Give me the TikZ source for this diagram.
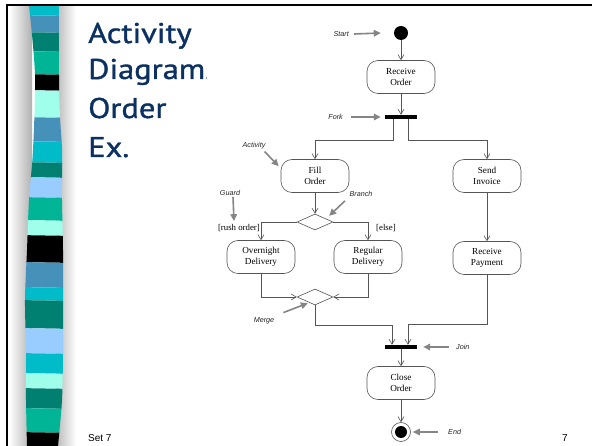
\documentclass[tikz,border=0pt]{standalone}
\usepackage{fontspec}
\setmainfont{Liberation Serif}
\newfontfamily\titlefont[FakeStretch=1.14,FakeBold=1.2]{PT Sans}
\newfontfamily\footfont{Liberation Sans}
\usetikzlibrary{arrows.meta,shapes.geometric,calc}

\definecolor{titleblue}{HTML}{0B3062}
\definecolor{bcy}{HTML}{00BCC8}
\definecolor{bsb}{HTML}{4691B9}
\definecolor{bdt}{HTML}{008070}
\definecolor{bgt}{HTML}{00B496}
\definecolor{bla}{HTML}{A0FFEB}
\definecolor{blb}{HTML}{99CCFF}
\definecolor{bblk}{HTML}{000000}
\definecolor{linegray}{HTML}{555555}
\definecolor{notegray}{HTML}{858585}

\tikzset{
  act/.style={draw=linegray, line width=0.6pt, rounded corners=11pt,
    minimum width=68pt, minimum height=33pt, inner sep=1pt, align=center,
    font=\fontsize{9.2}{10.5}\selectfont},
  decision/.style={diamond, draw=linegray, line width=0.6pt,
    minimum width=36pt, minimum height=16pt, inner sep=0pt},
  syncbar/.style={fill=black, minimum width=32pt, minimum height=4pt, inner sep=0pt},
  dot/.style={circle, fill=black, minimum size=14pt, inner sep=0pt},
  flow/.style={draw=linegray, line width=0.6pt,
    -{Straight Barb[length=5pt,width=6pt]}},
  note/.style={draw=notegray, line width=1.6pt,
    -{Triangle[length=7pt,width=6.5pt]}},
  tag/.style={font=\footfont\itshape\fontsize{7.2}{8}\selectfont, text=black!85, inner sep=1pt},
  guard/.style={font=\fontsize{8.8}{9}\selectfont, inner sep=1pt},
  titleline/.style={anchor=base west, text=titleblue, inner sep=0pt,
    font=\titlefont\fontsize{28.5}{30}\selectfont},
  foot/.style={font=\footfont\fontsize{10}{12}\selectfont, inner sep=0pt}
}

\begin{document}
\begin{tikzpicture}[x=1pt,y=-1pt]
\useasboundingbox (0,0) rectangle (592,446);
\fill[white] (0,0) rectangle (592,446);

% soft shadows either side of the decorative strip
\shade[left color=white, right color=gray!62] (9,5) rectangle (32,446);
\shade[left color=gray!55, right color=white] (56,5) rectangle (76,446);

% decorative striped band
\begin{scope}
  \clip plot[smooth] coordinates {(29,5) (35,75) (33,150) (29,200) (27,250) (25,300) (26,350) (26,400) (27,446)}
    -- plot[smooth] coordinates {(58,446) (62,400) (63,350) (63,300) (63,250) (62,200) (62,150) (60,117) (59,75) (59,5)}
    -- cycle;
  \foreach \a/\b/\c in {5/15/bcy, 15/32/bsb, 32/51/bdt, 51/74/bgt, 74/90/bblk,
      90/117/bla, 117/141/bsb, 141/162/bcy, 162/177/bdt, 177/197/blb,
      197/220/bgt, 220/235/bla, 235/262/bblk, 262/287/bsb, 287/300/bcy,
      300/328/bdt, 328/353/blb, 353/373/bcy, 373/388/bla, 388/408/bdt,
      408/432/bgt, 432/447/bblk}
    \fill[\c] (15,\a) -- (75,\a+1) -- (75,\b+1) -- (15,\b) -- cycle;
\end{scope}

% slide frame
\draw[line width=1.5pt] (7,446) -- (7,5) -- (592,5);

% slide title
\node[titleline] (t1) at (88,43) {Activity};
\node[titleline] (t2) at (88,79) {Diagrams:};
\node[titleline] (t3) at (88,118) {Order};
\node[titleline] (t4) at (88,157) {Ex.};

% white panel behind the activity diagram
\fill[white] (207,8) rectangle (562,446);

% activity diagram
\node[dot] (start) at (401,33) {};
\node[act] (recv) at (401,77) {Receive\\Order};
\node[syncbar] (fork) at (401,117) {};
\node[act] (fillord) at (315,176) {Fill\\Order};
\node[act] (send) at (487,176) {Send\\Invoice};
\node[decision] (branch) at (315,222) {};
\node[act] (over) at (261,257) {Overnight\\Delivery};
\node[act] (reg) at (368,257) {Regular\\Delivery};
\node[act] (pay) at (487,258) {Receive\\Payment};
\node[decision] (merge) at (315,297) {};
\node[syncbar] (join) at (401,347) {};
\node[act] (close) at (401,383) {Close\\Order};
\node[circle, draw=linegray, line width=0.6pt, minimum size=19pt, inner sep=0pt] (end) at (401,432) {};
\node[dot, minimum size=12pt] (endin) at (end.center) {};

\draw[flow] (start) -- (recv);
\draw[flow] (recv) -- (fork);
\draw[flow] ([xshift=-8pt]fork.south) -- ++(0,21) -| (fillord.north);
\draw[flow] ([xshift=7pt]fork.south) -- ++(0,21) -| (send.north);
\draw[flow] (fillord) -- (branch);
\draw[flow] (branch.west) -| (over.north);
\draw[flow] (branch.east) -| (reg.north);
\draw[flow] (over.south) |- (merge.west);
\draw[flow] (reg.south) |- (merge.east);
\draw[flow] (send) -- (pay);
\draw[flow] (merge.south) -- ++(0,20) -| ([xshift=-9pt]join.north);
\draw[flow] (pay.south) -- ++(0,50) -| ([xshift=7pt]join.north);
\draw[flow] (join) -- (close);
\draw[flow] (close) -- (end);

% guard conditions
\node[guard, anchor=east] (rush) at (261,228) {[rush order]};
\node[guard, anchor=west] (else) at (375,228) {[else]};

% annotations
\node[tag, anchor=east] (tStart) at (350,34) {Start};
\draw[note] ([xshift=4pt]tStart.east) -- ([xshift=-13pt]start.west);
\node[tag, anchor=east] (tFork) at (344,117) {Fork};
\draw[note] ([xshift=7pt]tFork.east) -- ([xshift=-4pt]fork.west);
\node[tag] (tAct) at (254,146) {Activity};
\draw[note] ([shift={(-2pt,-1pt)}]tAct.south east) -- ([shift={(-2pt,-7pt)}]fillord.north west);
\node[tag] (tGuard) at (230,193) {Guard};
\draw[note] ([xshift=3pt]tGuard.south) -- ([xshift=-27pt,yshift=2pt]rush.north east);
\node[tag] (tBranch) at (361,194) {Branch};
\draw[note] ([shift={(-16pt,-3pt)}]tBranch.south) -- ([shift={(5pt,2pt)}]branch.north east);
\node[tag] (tMerge) at (264,321) {Merge};
\draw[note] ([shift={(8pt,4pt)}]tMerge.north east) -- ([shift={(2pt,-2pt)}]merge.south west);
\node[tag, anchor=west] (tJoin) at (455,347) {Join};
\draw[note] ([xshift=-6pt]tJoin.west) -- ([xshift=6pt]join.east);
\node[tag, anchor=west] (tEnd) at (447,432) {End};
\draw[note] ([xshift=-9pt]tEnd.west) -- ([xshift=2pt]end.east);

% footer
\node[foot, anchor=base west] (setno) at (88,441) {Set 7};
\node[foot, anchor=base east] (pageno) at (568,441) {7};
\end{tikzpicture}
\end{document}
